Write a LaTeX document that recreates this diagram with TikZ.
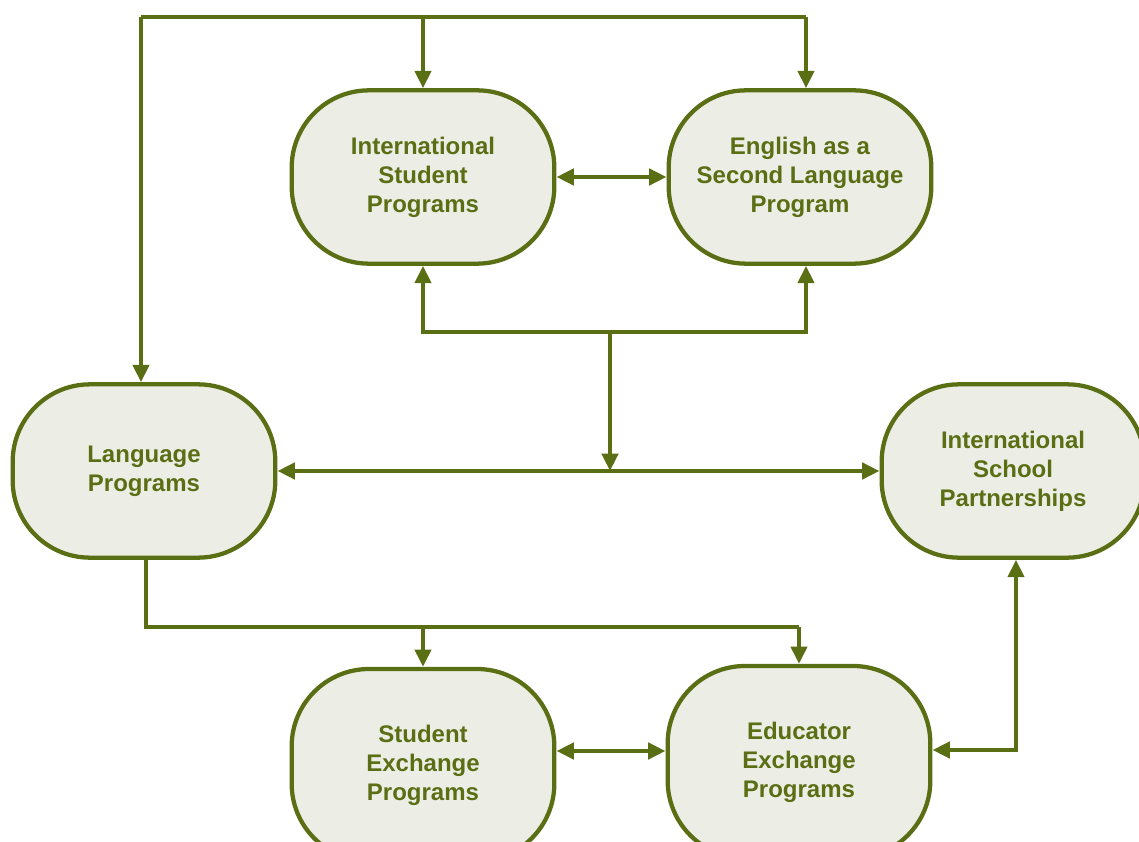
\documentclass[tikz,border=0pt]{standalone}
\usepackage{fontspec}
\setmainfont{Liberation Sans}
\usetikzlibrary{arrows.meta}
\definecolor{lineg}{HTML}{5A6E14}
\definecolor{fillg}{HTML}{ECEEE6}
\begin{document}
\begin{tikzpicture}[x=0.75pt,y=-0.75pt,
  box/.style={draw=lineg, fill=fillg, line width=3.2pt, rounded corners=58pt,
    minimum width=197pt, minimum height=130pt, align=center,
    font=\bfseries\fontsize{18}{21.75}\selectfont, text=lineg},
  tallbox/.style={box, minimum height=144pt},
  conn/.style={draw=lineg, line width=3.2pt},
  arr/.style={-{Triangle[length=13pt,width=12pt]}},
  arrs/.style={{Triangle[length=13pt,width=12pt]}-{Triangle[length=13pt,width=12pt]}}]
\useasboundingbox (0,0) rectangle (1139,842);
\node[box] (isp) at (423,177) {International\\Student\\Programs};
\node[box] (esl) at (800,177) {English as a\\Second Language\\Program};
\node[box] (lang) at (144,471) {Language\\Programs};
\node[box] (isch) at (1013,471) {International\\School\\Partnerships};
\node[tallbox] (sep) at (423,765) {Student\\Exchange\\Programs};
\node[tallbox] (eep) at (799,762) {Educator\\Exchange\\Programs};
\coordinate (tl) at (141,17);
\coordinate (tr) at (806,17);
\coordinate (mj) at (610,332);
\coordinate (bl) at (146,627);
\coordinate (br) at (799,627);
\coordinate (sx) at (610,751);
\coordinate (ex) at (1016,750);
% top distribution
\draw[conn] (tl) -- (tr);
\draw[conn,arr] (tl) -- (tl |- lang.north);
\draw[conn,arr] (isp.north |- tl) -- (isp.north);
\draw[conn,arr] (tr) -- (tr |- esl.north);
% ISP <-> ESL
\draw[conn,arrs] (isp.east) -- (esl.west);
% ISP / ESL bottom
\draw[conn,arrs] (isp.south) |- (mj) -| (tr |- esl.south);
\draw[conn,arr] (mj) -- (mj |- lang.east);
% Language <-> Partnerships
\draw[conn,arrs] (lang.east) -- (isch.west);
% bottom distribution
\draw[conn] (bl |- lang.south) -- (bl) -- (br);
\draw[conn,arr] (sep.north |- bl) -- (sep.north);
\draw[conn,arr] (br) -- (eep.north);
% Student <-> Educator
\draw[conn,arrs] (sx -| sep.east) -- (sx -| eep.west);
% Educator <-> Partnerships
\draw[conn,arrs] (ex -| eep.east) -- (ex) -- (ex |- isch.south);
\end{tikzpicture}
\end{document}
